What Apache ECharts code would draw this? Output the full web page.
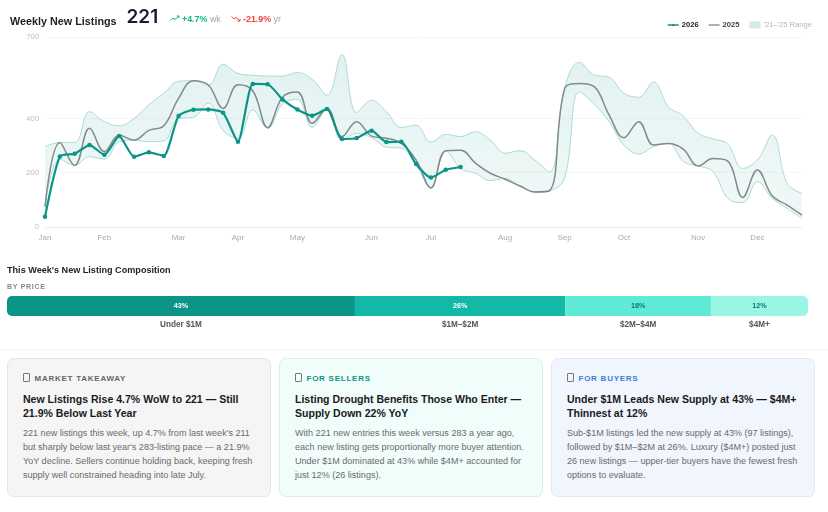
<!DOCTYPE html>
<html><head><meta charset="utf-8">
<script src="https://cdn.jsdelivr.net/npm/echarts@6/dist/echarts.min.js"></script>
<style>
html,body{margin:0;padding:0;background:#fff;width:828px;height:512px;overflow:hidden;font-family:"Liberation Sans",Arial,sans-serif}
#chart{position:absolute;left:0;top:0;width:828px;height:350px}
.abs{position:absolute;white-space:nowrap}
.sep{position:absolute;left:0;top:349px;width:828px;height:1px;background:#f1f5f4}
.card{position:absolute;top:358px;width:262px;height:137px;border-radius:7px;border:1px solid}
.tag{position:absolute;left:15px;top:14px;font-size:8px;font-weight:700;letter-spacing:.75px;line-height:10px;white-space:nowrap}
.tag i{display:inline-block;width:4.5px;height:6.5px;border:1px solid #777;border-radius:1px;margin-right:5px;vertical-align:-.5px}
.head{position:absolute;left:15px;top:33px;font-size:10.55px;font-weight:700;color:#1a1a1a;line-height:14px;white-space:nowrap}
.txt{position:absolute;left:15px;top:67px;font-size:9.05px;line-height:14px;color:#6b6b6b;white-space:nowrap}
</style></head><body>
<div id="chart"></div>
<div class="abs" style="left:10px;top:14px;font-size:10.8px;font-weight:700;color:#222;line-height:14px">Weekly New Listings</div>
<div class="abs" style="left:126.5px;top:5px;font-size:19px;font-weight:600;color:#1a1a2e;line-height:24px;font-family:Inter,'Liberation Sans',sans-serif">221</div>
<svg class="abs" style="left:170px;top:15px" width="10" height="7" viewBox="0 0 10 7"><path d="M0.5 5.5 L3 3 L5 4.5 L9 1 M6.5 1 H9 V3.2" fill="none" stroke="#10b981" stroke-width="1"/></svg>
<div class="abs" style="left:182px;top:14px;font-size:8.9px;line-height:11px;color:#a5a5a5"><b style="color:#10b981">+4.7%</b> wk</div>
<svg class="abs" style="left:231px;top:15px" width="10" height="7" viewBox="0 0 10 7"><path d="M0.5 1.5 L3 4 L5 2.5 L9 6 M6.5 6 H9 V3.8" fill="none" stroke="#ef4444" stroke-width="1"/></svg>
<div class="abs" style="left:243px;top:14px;font-size:8.9px;line-height:11px;color:#a5a5a5"><b style="color:#ef4444">-21.9%</b> yr</div>
<div class="abs" style="left:7px;top:265px;font-size:9.1px;font-weight:700;color:#222;line-height:11px">This Week's New Listing Composition</div>
<div class="abs" style="left:7px;top:282px;font-size:7px;font-weight:700;color:#888;letter-spacing:.7px;line-height:9px">BY PRICE</div>
<div class="sep"></div>
<div class="card" style="left:7px;background:#f5f5f5;border-color:#e6e6e6">
 <div class="tag" style="color:#666"><i></i>MARKET TAKEAWAY</div>
 <div class="head">New Listings Rise 4.7% WoW to 221 — Still<br>21.9% Below Last Year</div>
 <div class="txt">221 new listings this week, up 4.7% from last week's 211<br>but sharply below last year's 283-listing pace — a 21.9%<br>YoY decline. Sellers continue holding back, keeping fresh<br>supply well constrained heading into late July.</div>
</div>
<div class="card" style="left:279px;background:#f0fdfa;border-color:#d8f0ec">
 <div class="tag" style="color:#0d9488"><i></i>FOR SELLERS</div>
 <div class="head">Listing Drought Benefits Those Who Enter —<br>Supply Down 22% YoY</div>
 <div class="txt">With 221 new entries this week versus 283 a year ago,<br>each new listing gets proportionally more buyer attention.<br>Under $1M dominated at 43% while $4M+ accounted for<br>just 12% (26 listings).</div>
</div>
<div class="card" style="left:551px;background:#f1f5fe;border-color:#e1e8f8">
 <div class="tag" style="color:#3b7dd8"><i></i>FOR BUYERS</div>
 <div class="head">Under $1M Leads New Supply at 43% — $4M+<br>Thinnest at 12%</div>
 <div class="txt">Sub-$1M listings led the new supply at 43% (97 listings),<br>followed by $1M–$2M at 26%. Luxury ($4M+) posted just<br>26 new listings — upper-tier buyers have the fewest fresh<br>options to evaluate.</div>
</div>
<script>
const weekLabels = ['Jan','','','','Feb','','','','','Mar','','','','Apr','','','','May','','','','','Jun','','','','Jul','','','','','Aug','','','','Sep','','','','Oct','','','','','Nov','','','','Dec','','',''];
const y2026 = [38,260,270,302,266,335,259,275,262,409,432,433,421,314,527,526,470,433,410,435,324,328,355,313,314,232,182,211,221];
const y2025 = [75,311,227,364,278,338,320,356,373,474,539,523,437,524,502,366,478,497,382,437,333,388,335,327,308,247,144,281,283,235,198,176,151,129,134,508,529,517,413,329,388,302,308,287,225,252,243,109,210,114,81,44];
const rangeHigh = [296,311,311,425,388,373,400,450,493,537,539,523,599,566,559,556,556,569,544,486,635,422,467,425,367,375,313,341,333,351,320,272,281,247,203,511,607,560,552,493,478,534,443,409,345,325,305,216,247,338,161,124];
const rangeLow = [70,250,227,259,250,314,320,314,317,400,404,456,355,327,431,364,453,470,367,435,320,345,329,294,290,228,144,281,216,198,171,179,151,129,134,180,498,452,388,302,269,296,308,241,225,204,106,90,167,106,69,32];
const yTicks = [0,200,400,700];
const priceNames = ['Under $1M','$1M–$2M','$2M–$4M','$4M+'];
const priceShares = [43,26,18,12];
const priceColors = ['#0d9488','#14b8a6','#5eead4','#99f6e4'];
const priceLabelColors = ['#ffffff','#ffffff','#0f766e','#0f766e'];

const rangeSpan = rangeHigh.map((v,i)=>v-rangeLow[i]);
const FONT = '"Liberation Sans",Arial,sans-serif';
const mids = []; let acc = 0;
priceShares.forEach(v=>{mids.push(acc+v/2);acc+=v;});
const band = '#a9dbd4';
const barSeries = priceNames.map((n,i)=>({
  type:'bar',name:n,stack:'p',xAxisIndex:1,yAxisIndex:1,barWidth:20,data:[priceShares[i]],
  itemStyle:{color:priceColors[i],borderRadius:i===0?[5,0,0,5]:(i===3?[0,5,5,0]:0)},
  label:{show:true,position:'inside',formatter:'{c}%',color:priceLabelColors[i],fontSize:7.2,fontWeight:700,fontFamily:FONT}
}));
const chart = echarts.init(document.getElementById('chart'),null,{renderer:'canvas'});
chart.setOption({
  animation:false,
  textStyle:{fontFamily:FONT},
  legend:{top:16,right:11,itemWidth:11,itemHeight:7,itemGap:10,textStyle:{fontSize:7.6,fontFamily:FONT,padding:[0,0,0,-2]},
    data:[
      {name:'2026',icon:'path://M0 44 H40 A12 12 0 0 1 60 44 H100 V56 H60 A12 12 0 0 1 40 56 H0 Z',itemStyle:{color:'#0d9488'},textStyle:{color:'#222',fontWeight:700}},
      {name:'2025',icon:'path://M0 44 H100 V56 H0 Z',itemStyle:{color:'#808b8b'},textStyle:{color:'#444',fontWeight:700}},
      {name:"'21–'25 Range",icon:'rect',itemStyle:{color:'#d3ebe7',borderWidth:0},lineStyle:{width:0},textStyle:{color:'#b5b5b5'}}
    ]},
  grid:[{left:45,right:26,top:37,height:190},{left:7,right:20,top:296,height:20}],
  xAxis:[
    {type:'category',gridIndex:0,data:weekLabels,boundaryGap:false,
     axisLine:{lineStyle:{color:'#eeeeee'}},axisTick:{show:false},
     axisLabel:{interval:0,color:'#aaaaaa',fontSize:8,margin:7,fontFamily:FONT},splitLine:{show:false}},
    {type:'value',gridIndex:1,min:0,max:99,axisLine:{show:false},axisTick:{show:false},splitLine:{show:false},
     axisLabel:{customValues:mids,formatter:(v)=>priceNames[mids.indexOf(v)]||'',color:'#555',fontSize:8.2,fontWeight:700,margin:5,fontFamily:FONT,showMinLabel:true,showMaxLabel:true}}
  ],
  yAxis:[
    {type:'value',gridIndex:0,min:0,max:700,
     axisLine:{show:false},axisTick:{show:false,customValues:yTicks},
     axisLabel:{customValues:yTicks,color:'#bbbbbb',fontSize:7.6,margin:6,fontFamily:FONT},
     splitLine:{show:true,lineStyle:{color:'#f6f6f6',width:1}}},
    {type:'category',gridIndex:1,data:['Price'],axisLine:{show:false},axisTick:{show:false},axisLabel:{show:false},splitLine:{show:false}}
  ],
  series:[
    {type:'line',name:'base',stack:'r',data:rangeLow,smooth:.4,symbol:'none',lineStyle:{color:band,width:1},itemStyle:{color:band},z:1},
    {type:'line',name:"'21–'25 Range",stack:'r',data:rangeSpan,smooth:.4,symbol:'none',lineStyle:{color:band,width:1},itemStyle:{color:'#d3ebe7'},
     areaStyle:{opacity:1,color:{type:'linear',x:0,y:0,x2:0,y2:1,colorStops:[{offset:0,color:'rgba(13,148,136,0.12)'},{offset:1,color:'rgba(13,148,136,0.06)'}]}},z:1},
    {type:'line',name:'2025',data:y2025,smooth:.4,symbol:'none',lineStyle:{color:'#808b8b',width:1.5},itemStyle:{color:'#808b8b'},z:3},
    {type:'line',name:'2026',data:y2026,smooth:.2,symbol:'circle',symbolSize:4.5,showSymbol:true,lineStyle:{color:'#0d9488',width:2.2},itemStyle:{color:'#0d9488'},z:4},
    ...barSeries
  ]
});
</script>
</body></html>
